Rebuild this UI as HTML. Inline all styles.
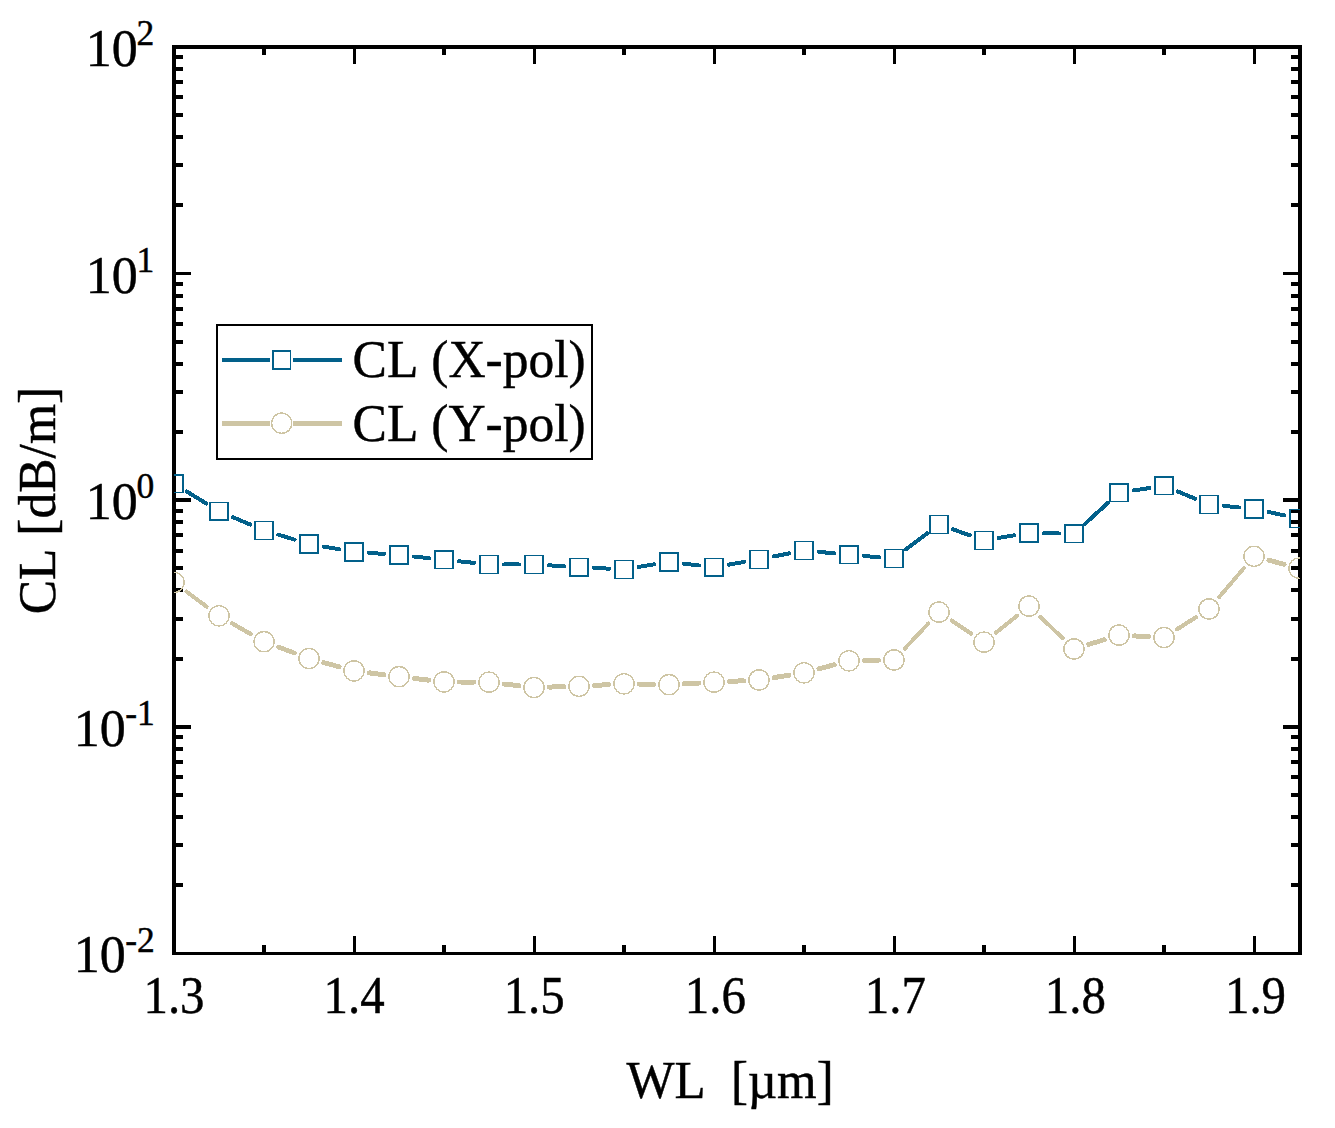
<!DOCTYPE html>
<html><head><meta charset="utf-8"><title>CL vs WL</title>
<style>
html,body{margin:0;padding:0;background:#fff;}
body{width:1335px;height:1128px;overflow:hidden;}
svg{display:block;}
text{font-family:"Liberation Serif",serif;fill:#000;stroke:#000;stroke-width:0.45px;font-kerning:none;font-feature-settings:"kern" 0,"liga" 0;}
</style></head><body>
<svg width="1335" height="1128" viewBox="0 0 1335 1128">
<rect x="0" y="0" width="1335" height="1128" fill="#fff"/>
<defs><clipPath id="pc"><rect x="174" y="47" width="1126" height="907"/></clipPath></defs>
<g fill="#000" shape-rendering="crispEdges">
<rect x="172" y="45" width="4" height="910"/>
<rect x="1298" y="45" width="4" height="910"/>
<rect x="172" y="45" width="1130" height="4"/>
<rect x="172" y="952" width="1130" height="3"/>
<rect x="262" y="49" width="4" height="6"/>
<rect x="262" y="945" width="4" height="7"/>
<rect x="353" y="49" width="3" height="15"/>
<rect x="353" y="936" width="3" height="16"/>
<rect x="442" y="49" width="4" height="6"/>
<rect x="442" y="945" width="4" height="7"/>
<rect x="533" y="49" width="3" height="15"/>
<rect x="533" y="936" width="3" height="16"/>
<rect x="622" y="49" width="4" height="6"/>
<rect x="622" y="945" width="4" height="7"/>
<rect x="713" y="49" width="3" height="15"/>
<rect x="713" y="936" width="3" height="16"/>
<rect x="802" y="49" width="4" height="6"/>
<rect x="802" y="945" width="4" height="7"/>
<rect x="893" y="49" width="3" height="15"/>
<rect x="893" y="936" width="3" height="16"/>
<rect x="982" y="49" width="4" height="6"/>
<rect x="982" y="945" width="4" height="7"/>
<rect x="1073" y="49" width="3" height="15"/>
<rect x="1073" y="936" width="3" height="16"/>
<rect x="1162" y="49" width="4" height="6"/>
<rect x="1162" y="945" width="4" height="7"/>
<rect x="1253" y="49" width="3" height="15"/>
<rect x="1253" y="936" width="3" height="16"/>
<rect x="176" y="203" width="7" height="4"/>
<rect x="1291" y="203" width="7" height="4"/>
<rect x="176" y="163" width="7" height="4"/>
<rect x="1291" y="163" width="7" height="4"/>
<rect x="176" y="135" width="7" height="4"/>
<rect x="1291" y="135" width="7" height="4"/>
<rect x="176" y="113" width="7" height="4"/>
<rect x="1291" y="113" width="7" height="4"/>
<rect x="176" y="95" width="7" height="4"/>
<rect x="1291" y="95" width="7" height="4"/>
<rect x="176" y="80" width="7" height="4"/>
<rect x="1291" y="80" width="7" height="4"/>
<rect x="176" y="67" width="7" height="4"/>
<rect x="1291" y="67" width="7" height="4"/>
<rect x="176" y="55" width="7" height="4"/>
<rect x="1291" y="55" width="7" height="4"/>
<rect x="176" y="272" width="15" height="3"/>
<rect x="1283" y="272" width="15" height="3"/>
<rect x="176" y="430" width="7" height="4"/>
<rect x="1291" y="430" width="7" height="4"/>
<rect x="176" y="390" width="7" height="4"/>
<rect x="1291" y="390" width="7" height="4"/>
<rect x="176" y="362" width="7" height="4"/>
<rect x="1291" y="362" width="7" height="4"/>
<rect x="176" y="340" width="7" height="4"/>
<rect x="1291" y="340" width="7" height="4"/>
<rect x="176" y="322" width="7" height="4"/>
<rect x="1291" y="322" width="7" height="4"/>
<rect x="176" y="307" width="7" height="4"/>
<rect x="1291" y="307" width="7" height="4"/>
<rect x="176" y="294" width="7" height="4"/>
<rect x="1291" y="294" width="7" height="4"/>
<rect x="176" y="282" width="7" height="4"/>
<rect x="1291" y="282" width="7" height="4"/>
<rect x="176" y="498" width="15" height="4"/>
<rect x="1283" y="498" width="15" height="4"/>
<rect x="176" y="657" width="7" height="4"/>
<rect x="1291" y="657" width="7" height="4"/>
<rect x="176" y="617" width="7" height="4"/>
<rect x="1291" y="617" width="7" height="4"/>
<rect x="176" y="588" width="7" height="4"/>
<rect x="1291" y="588" width="7" height="4"/>
<rect x="176" y="566" width="7" height="4"/>
<rect x="1291" y="566" width="7" height="4"/>
<rect x="176" y="549" width="7" height="4"/>
<rect x="1291" y="549" width="7" height="4"/>
<rect x="176" y="533" width="7" height="4"/>
<rect x="1291" y="533" width="7" height="4"/>
<rect x="176" y="520" width="7" height="4"/>
<rect x="1291" y="520" width="7" height="4"/>
<rect x="176" y="509" width="7" height="4"/>
<rect x="1291" y="509" width="7" height="4"/>
<rect x="176" y="725" width="15" height="4"/>
<rect x="1283" y="725" width="15" height="4"/>
<rect x="176" y="883" width="7" height="4"/>
<rect x="1291" y="883" width="7" height="4"/>
<rect x="176" y="843" width="7" height="4"/>
<rect x="1291" y="843" width="7" height="4"/>
<rect x="176" y="815" width="7" height="4"/>
<rect x="1291" y="815" width="7" height="4"/>
<rect x="176" y="793" width="7" height="4"/>
<rect x="1291" y="793" width="7" height="4"/>
<rect x="176" y="775" width="7" height="4"/>
<rect x="1291" y="775" width="7" height="4"/>
<rect x="176" y="760" width="7" height="4"/>
<rect x="1291" y="760" width="7" height="4"/>
<rect x="176" y="747" width="7" height="4"/>
<rect x="1291" y="747" width="7" height="4"/>
<rect x="176" y="735" width="7" height="4"/>
<rect x="1291" y="735" width="7" height="4"/>
</g>
<g clip-path="url(#pc)" fill="none" stroke="#02608A" shape-rendering="crispEdges">
<path d="M186.79 491.54L206.21 503.46" stroke-width="4.00" stroke-linecap="round"/>
<path d="M232.81 517.16L250.19 524.54" stroke-width="4.00" stroke-linecap="round"/>
<path d="M278.36 534.74L294.64 539.66" stroke-width="4.00" stroke-linecap="round"/>
<path d="M323.77 546.59L339.23 549.31" stroke-width="4.00" stroke-linecap="round"/>
<path d="M368.97 552.90L384.03 553.90" stroke-width="4.00" stroke-linecap="round"/>
<path d="M413.91 556.52L429.09 558.18" stroke-width="4.00" stroke-linecap="round"/>
<path d="M458.92 561.33L474.08 562.87" stroke-width="4.00" stroke-linecap="round"/>
<path d="M504.00 564.40L519.00 564.40" stroke-width="4.00" stroke-linecap="round"/>
<path d="M548.97 565.33L564.03 566.27" stroke-width="4.00" stroke-linecap="round"/>
<path d="M593.98 567.93L609.02 568.67" stroke-width="4.00" stroke-linecap="round"/>
<path d="M638.80 566.93L654.20 564.37" stroke-width="4.00" stroke-linecap="round"/>
<path d="M683.90 563.65L699.10 565.45" stroke-width="4.00" stroke-linecap="round"/>
<path d="M728.78 564.64L744.22 561.96" stroke-width="4.00" stroke-linecap="round"/>
<path d="M773.71 556.46L789.29 553.34" stroke-width="4.00" stroke-linecap="round"/>
<path d="M818.93 551.86L834.07 553.34" stroke-width="4.00" stroke-linecap="round"/>
<path d="M863.95 556.00L879.05 557.20" stroke-width="4.00" stroke-linecap="round"/>
<path d="M905.97 549.36L927.03 533.44" stroke-width="4.00" stroke-linecap="round"/>
<path d="M953.13 529.43L969.87 535.37" stroke-width="4.00" stroke-linecap="round"/>
<path d="M998.80 537.93L1014.20 535.37" stroke-width="4.00" stroke-linecap="round"/>
<path d="M1044.00 533.20L1059.00 533.50" stroke-width="4.00" stroke-linecap="round"/>
<path d="M1085.09 523.70L1107.91 502.90" stroke-width="4.00" stroke-linecap="round"/>
<path d="M1133.82 490.49L1149.18 488.11" stroke-width="4.00" stroke-linecap="round"/>
<path d="M1177.86 491.53L1195.14 498.67" stroke-width="4.00" stroke-linecap="round"/>
<path d="M1223.93 505.89L1239.07 507.41" stroke-width="4.00" stroke-linecap="round"/>
<path d="M1268.67 512.03L1284.33 515.37" stroke-width="4.00" stroke-linecap="round"/>
<rect x="165.10" y="474.80" width="17.80" height="17.80" stroke-width="1.5"/>
<rect x="210.10" y="502.40" width="17.80" height="17.80" stroke-width="1.5"/>
<rect x="255.10" y="521.50" width="17.80" height="17.80" stroke-width="1.5"/>
<rect x="300.10" y="535.10" width="17.80" height="17.80" stroke-width="1.5"/>
<rect x="345.10" y="543.00" width="17.80" height="17.80" stroke-width="1.5"/>
<rect x="390.10" y="546.00" width="17.80" height="17.80" stroke-width="1.5"/>
<rect x="435.10" y="550.90" width="17.80" height="17.80" stroke-width="1.5"/>
<rect x="480.10" y="555.50" width="17.80" height="17.80" stroke-width="1.5"/>
<rect x="525.10" y="555.50" width="17.80" height="17.80" stroke-width="1.5"/>
<rect x="570.10" y="558.30" width="17.80" height="17.80" stroke-width="1.5"/>
<rect x="615.10" y="560.50" width="17.80" height="17.80" stroke-width="1.5"/>
<rect x="660.10" y="553.00" width="17.80" height="17.80" stroke-width="1.5"/>
<rect x="705.10" y="558.30" width="17.80" height="17.80" stroke-width="1.5"/>
<rect x="750.10" y="550.50" width="17.80" height="17.80" stroke-width="1.5"/>
<rect x="795.10" y="541.50" width="17.80" height="17.80" stroke-width="1.5"/>
<rect x="840.10" y="545.90" width="17.80" height="17.80" stroke-width="1.5"/>
<rect x="885.10" y="549.50" width="17.80" height="17.80" stroke-width="1.5"/>
<rect x="930.10" y="515.50" width="17.80" height="17.80" stroke-width="1.5"/>
<rect x="975.10" y="531.50" width="17.80" height="17.80" stroke-width="1.5"/>
<rect x="1020.10" y="524.00" width="17.80" height="17.80" stroke-width="1.5"/>
<rect x="1065.10" y="524.90" width="17.80" height="17.80" stroke-width="1.5"/>
<rect x="1110.10" y="483.90" width="17.80" height="17.80" stroke-width="1.5"/>
<rect x="1155.10" y="476.90" width="17.80" height="17.80" stroke-width="1.5"/>
<rect x="1200.10" y="495.50" width="17.80" height="17.80" stroke-width="1.5"/>
<rect x="1245.10" y="500.00" width="17.80" height="17.80" stroke-width="1.5"/>
<rect x="1290.10" y="509.60" width="17.80" height="17.80" stroke-width="1.5"/>
</g>
<g clip-path="url(#pc)" fill="none" stroke="#CEC5A4" shape-rendering="crispEdges">
<path d="M186.37 591.58L206.63 606.62" stroke-width="4.12" stroke-linecap="round"/>
<path d="M232.35 623.48L250.65 634.02" stroke-width="4.34" stroke-linecap="round"/>
<path d="M278.43 647.09L294.57 653.11" stroke-width="4.67" stroke-linecap="round"/>
<path d="M323.85 662.59L339.15 666.81" stroke-width="4.85" stroke-linecap="round"/>
<path d="M369.27 672.87L383.73 674.73" stroke-width="5.00" stroke-linecap="round"/>
<path d="M414.30 678.47L428.70 680.13" stroke-width="5.00" stroke-linecap="round"/>
<path d="M459.40 682.00L473.60 682.10" stroke-width="5.00" stroke-linecap="round"/>
<path d="M504.29 684.00L518.71 685.70" stroke-width="5.00" stroke-linecap="round"/>
<path d="M549.39 687.09L563.61 686.71" stroke-width="5.00" stroke-linecap="round"/>
<path d="M594.38 685.45L608.62 684.65" stroke-width="5.00" stroke-linecap="round"/>
<path d="M639.40 684.11L653.60 684.39" stroke-width="5.00" stroke-linecap="round"/>
<path d="M684.38 683.85L698.62 683.05" stroke-width="5.00" stroke-linecap="round"/>
<path d="M729.38 681.45L743.62 680.75" stroke-width="5.00" stroke-linecap="round"/>
<path d="M774.21 677.57L788.79 675.23" stroke-width="5.00" stroke-linecap="round"/>
<path d="M818.88 668.83L834.12 664.77" stroke-width="4.87" stroke-linecap="round"/>
<path d="M864.40 660.53L878.60 660.27" stroke-width="5.00" stroke-linecap="round"/>
<path d="M904.54 648.78L928.46 623.32" stroke-width="4.00" stroke-linecap="round"/>
<path d="M951.80 620.66L971.20 633.64" stroke-width="4.21" stroke-linecap="round"/>
<path d="M996.01 632.56L1016.99 615.74" stroke-width="4.05" stroke-linecap="round"/>
<path d="M1040.15 616.73L1062.85 638.37" stroke-width="4.00" stroke-linecap="round"/>
<path d="M1088.71 644.45L1104.29 639.65" stroke-width="4.79" stroke-linecap="round"/>
<path d="M1134.38 635.92L1148.62 636.68" stroke-width="5.00" stroke-linecap="round"/>
<path d="M1177.01 629.26L1195.99 617.24" stroke-width="4.26" stroke-linecap="round"/>
<path d="M1219.00 597.29L1244.00 568.01" stroke-width="4.00" stroke-linecap="round"/>
<path d="M1268.89 560.24L1284.11 564.26" stroke-width="4.88" stroke-linecap="round"/>
<circle cx="174.00" cy="582.40" r="10.1" stroke-width="1.4"/>
<circle cx="219.00" cy="615.80" r="10.1" stroke-width="1.4"/>
<circle cx="264.00" cy="641.70" r="10.1" stroke-width="1.4"/>
<circle cx="309.00" cy="658.50" r="10.1" stroke-width="1.4"/>
<circle cx="354.00" cy="670.90" r="10.1" stroke-width="1.4"/>
<circle cx="399.00" cy="676.70" r="10.1" stroke-width="1.4"/>
<circle cx="444.00" cy="681.90" r="10.1" stroke-width="1.4"/>
<circle cx="489.00" cy="682.20" r="10.1" stroke-width="1.4"/>
<circle cx="534.00" cy="687.50" r="10.1" stroke-width="1.4"/>
<circle cx="579.00" cy="686.30" r="10.1" stroke-width="1.4"/>
<circle cx="624.00" cy="683.80" r="10.1" stroke-width="1.4"/>
<circle cx="669.00" cy="684.70" r="10.1" stroke-width="1.4"/>
<circle cx="714.00" cy="682.20" r="10.1" stroke-width="1.4"/>
<circle cx="759.00" cy="680.00" r="10.1" stroke-width="1.4"/>
<circle cx="804.00" cy="672.80" r="10.1" stroke-width="1.4"/>
<circle cx="849.00" cy="660.80" r="10.1" stroke-width="1.4"/>
<circle cx="894.00" cy="660.00" r="10.1" stroke-width="1.4"/>
<circle cx="939.00" cy="612.10" r="10.1" stroke-width="1.4"/>
<circle cx="984.00" cy="642.20" r="10.1" stroke-width="1.4"/>
<circle cx="1029.00" cy="606.10" r="10.1" stroke-width="1.4"/>
<circle cx="1074.00" cy="649.00" r="10.1" stroke-width="1.4"/>
<circle cx="1119.00" cy="635.10" r="10.1" stroke-width="1.4"/>
<circle cx="1164.00" cy="637.50" r="10.1" stroke-width="1.4"/>
<circle cx="1209.00" cy="609.00" r="10.1" stroke-width="1.4"/>
<circle cx="1254.00" cy="556.30" r="10.1" stroke-width="1.4"/>
<circle cx="1299.00" cy="568.20" r="10.1" stroke-width="1.4"/>
</g>
<g shape-rendering="crispEdges" fill="none" stroke="#000" stroke-width="2"><rect x="217" y="325" width="375" height="134"/></g>
<g fill="none" stroke="#02608A" shape-rendering="crispEdges"><path d="M222 360H270M293 360H342" stroke-width="4"/><rect x="272.8" y="351" width="17.8" height="17.8" stroke-width="1.5"/></g>
<g fill="none" stroke="#CEC5A4" shape-rendering="crispEdges"><path d="M222 423.5H270M293 423.5H342" stroke-width="5"/><circle cx="281.7" cy="423.2" r="10.1" stroke-width="1.4"/></g>
<text transform="translate(352.6,376.9) scale(0.99,1)" font-size="52">CL (X-pol)</text>
<text transform="translate(352.6,440.7) scale(0.99,1)" font-size="52">CL (Y-pol)</text>
<text transform="translate(174.0,1012.5) scale(0.94,1)" font-size="52" text-anchor="middle">1.3</text>
<text transform="translate(354.1,1012.5) scale(0.94,1)" font-size="52" text-anchor="middle">1.4</text>
<text transform="translate(534.2,1012.5) scale(0.94,1)" font-size="52" text-anchor="middle">1.5</text>
<text transform="translate(715.3,1012.5) scale(0.94,1)" font-size="52" text-anchor="middle">1.6</text>
<text transform="translate(895.3,1012.5) scale(0.94,1)" font-size="52" text-anchor="middle">1.7</text>
<text transform="translate(1075.3,1012.5) scale(0.94,1)" font-size="52" text-anchor="middle">1.8</text>
<text transform="translate(1255.5,1012.5) scale(0.94,1)" font-size="52" text-anchor="middle">1.9</text>
<text x="137.65" y="65.9" font-size="52" text-anchor="end">10</text>
<text x="136.45" y="45.1" font-size="35.5">2</text>
<text x="137.65" y="292.5" font-size="52" text-anchor="end">10</text>
<text x="136.45" y="271.7" font-size="35.5">1</text>
<text x="137.65" y="519.1" font-size="52" text-anchor="end">10</text>
<text x="136.45" y="498.3" font-size="35.5">0</text>
<text x="125.83" y="745.8" font-size="52" text-anchor="end">10</text>
<text x="125.23" y="725.0" font-size="35.5">-1</text>
<text x="125.83" y="972.4" font-size="52" text-anchor="end">10</text>
<text x="125.23" y="951.6" font-size="35.5">-2</text>
<text transform="translate(730.0,1097.5) scale(0.978,1)" font-size="52" text-anchor="middle" xml:space="preserve">WL  [µm]</text>
<text transform="translate(54.7,500.6) rotate(-90) scale(0.99,1)" font-size="52" text-anchor="middle">CL [dB/m]</text>
</svg></body></html>
